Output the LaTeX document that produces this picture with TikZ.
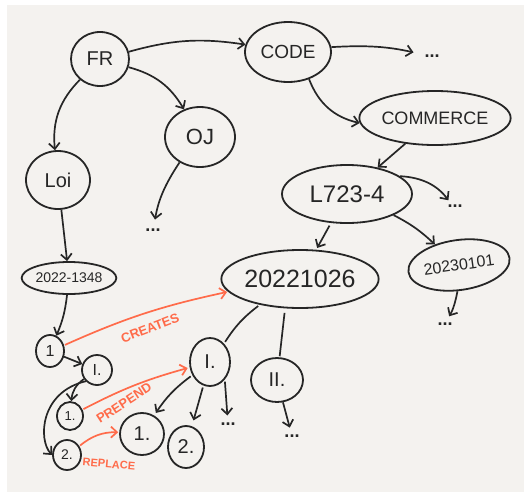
\documentclass[tikz,border=0pt]{standalone}
\usepackage{fontspec}
\setmainfont{Liberation Sans}
\usetikzlibrary{shapes.geometric,arrows.meta}
\definecolor{ink}{HTML}{262626}
\definecolor{paper}{HTML}{F4F2EF}
\definecolor{orng}{HTML}{FF6B4A}
\tikzset{
  bub/.style={draw=ink, line width=1.8pt, ellipse, inner sep=0pt, text=ink},
  dotsnode/.style={text=ink, inner sep=1pt, font=\fontsize{18}{18}\selectfont\bfseries},
  arr/.style={draw=ink, line width=1.7pt, -{Straight Barb[length=6pt,width=11pt]}},
  lin/.style={draw=ink, line width=1.7pt},
  oarr/.style={draw=orng, line width=1.7pt, -{Straight Barb[length=6pt,width=11pt]}},
  olab/.style={text=orng, inner sep=1pt, font=\fontsize{13}{13}\selectfont\bfseries},
}
\newcommand{\fs}[1]{\fontsize{#1}{#1}\selectfont}
\begin{document}
\begin{tikzpicture}[x=1pt,y=-1pt]
\useasboundingbox (0,0) rectangle (531,499);
\fill[paper] (7,5) rectangle (524,492);
% nodes
\node[bub, minimum width=58, minimum height=54, font=\fs{20}] (fr) at (100,59) {FR};
\node[bub, minimum width=86, minimum height=60, font=\fs{19}] (code) at (288,52) {CODE};
\node[bub, minimum width=144, minimum height=54, font=\fs{18}] (commerce) at (435,118) {COMMERCE};
\node[bub, minimum width=70, minimum height=60, font=\fs{22}] (oj) at (200,137) {OJ};
\node[bub, minimum width=64, minimum height=58, font=\fs{20}] (loi) at (58,180) {Loi};
\node[bub, minimum width=130, minimum height=58, font=\fs{24}] (l723) at (347,194) {L723-4};
\node[bub, minimum width=94, minimum height=32, font=\fs{14}] (d1348) at (69,278) {2022-1348};
\node[bub, minimum width=102, minimum height=50, font=\fs{16}, rotate=8] (d0101) at (459,265) {20230101};
\node[bub, minimum width=154, minimum height=58, font=\fs{25}] (d1026) at (300,279) {20221026};
\node[bub, minimum width=28, minimum height=32, font=\fs{16}] (one) at (50,351) {1};
\node[bub, minimum width=30, minimum height=30, font=\fs{16}] (iA) at (97,370) {I.};
\node[bub, minimum width=26, minimum height=28, font=\fs{13}] (oneA) at (70,416) {1.};
\node[bub, minimum width=28, minimum height=30, font=\fs{14}] (twoA) at (67,455) {2.};
\node[bub, minimum width=40, minimum height=48, font=\fs{20}] (iB) at (210,362) {I.};
\node[bub, minimum width=44, minimum height=42, font=\fs{20}] (oneB) at (142,434) {1.};
\node[bub, minimum width=36, minimum height=42, font=\fs{20}] (twoB) at (186,447) {2.};
\node[bub, minimum width=52, minimum height=44, font=\fs{20}] (ii) at (277,380) {II.};
% dots
\node[dotsnode] (dcode) at (432,56) {...};
\node[dotsnode] (doj) at (153,230) {...};
\node[dotsnode] (dl723) at (455,206) {...};
\node[dotsnode] (dd0101) at (445,324) {...};
\node[dotsnode] (di) at (228,424) {...};
\node[dotsnode] (dii) at (292,436) {...};
% black connectors
\draw[arr] (fr) to[bend left=12] (code);
\draw[arr, shorten >=10pt] (code) to[bend left=8] (dcode);
\draw[arr] (code) to[bend right=28] (commerce);
\draw[arr] (commerce) -- (l723);
\draw[arr] (fr) to[bend left=22] (oj);
\draw[arr] (fr) to[bend right=25] (loi);
\draw[arr, shorten >=8pt] (oj) to[bend right=12] (doj);
\draw[arr] (loi) -- (d1348);
\draw[arr] (d1348) to[bend left=8] (one);
\draw[arr] (one) -- (iA);
\draw[arr] (iA) to[bend right=25] (oneA);
\draw[arr] (iA.south west) .. controls (40,392) and (38,440) .. (twoA.west);
\draw[arr, shorten >=4pt] (l723) to[bend left=25] (dl723);
\draw[arr] (l723) to[bend left=8] (d0101);
\draw[arr, shorten <=3pt, shorten >=2pt] (l723) -- (d1026);
\draw[arr, shorten >=6pt] (d0101) to[bend left=10] (dd0101);
\draw[lin, shorten <=2pt, shorten >=2pt] (d1026) to[bend right=10] (iB);
\draw[lin, shorten <=4pt, shorten >=1pt] (d1026.south) ++(-15,0) coordinate (c1) (c1) -- (ii);
\draw[arr, shorten >=6pt] (ii) -- (dii);
\draw[arr, shorten <=2pt, shorten >=3pt] (iB) to[bend right=10] (oneB);
\draw[arr, shorten <=2pt, shorten >=6pt] (iB) -- (twoB);
\draw[arr, shorten <=2pt, shorten >=6pt] (iB.south east) -- (di);
% orange connectors
\draw[oarr, shorten <=1pt, shorten >=1pt] (one) to[bend left=6] (d1026);
\draw[oarr, shorten <=1pt, shorten >=2pt] (oneA) to[bend left=6] (iB);
\draw[oarr, shorten <=1pt, shorten >=1pt] (twoA) to[bend left=20] (oneB);
\node[olab, rotate=21] (lcreates) at (150,328) {CREATES};
\node[olab, rotate=33] (lprepend) at (124,403) {PREPEND};
\node[olab, rotate=-5, font=\fs{11}\bfseries] (lreplace) at (109,464) {REPLACE};
\end{tikzpicture}
\end{document}
